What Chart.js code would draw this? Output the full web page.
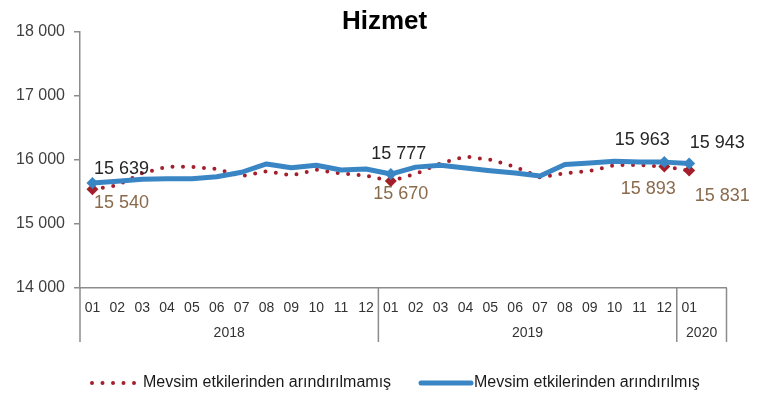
<!DOCTYPE html>
<html>
<head>
<meta charset="utf-8">
<script src="https://cdn.jsdelivr.net/npm/chart.js@4.4.1/dist/chart.umd.min.js"></script>
<style>
  html, body { margin: 0; padding: 0; background: #fff; }
</style>
</head>
<body>
<canvas id="hizmetChart" width="769" height="405"></canvas>
<script>
// Aylar (x ekseni) ve yıl grupları
const months = ['01', '02', '03', '04', '05', '06', '07', '08', '09', '10', '11', '12',
                '01', '02', '03', '04', '05', '06', '07', '08', '09', '10', '11', '12',
                '01'];
const years = ['2018', '2019', '2020'];
const yearSpans = [12, 12, 2]; // 2020 grubunda bir boş kategori var

// Seriler (bin kişi)
const arindirilmamis = [15540, 15600, 15790, 15890, 15890, 15855, 15745, 15820, 15755, 15845, 15785, 15755,
                        15670, 15780, 15945, 16050, 16000, 15890, 15725, 15790, 15825, 15915, 15920, 15893,
                        15831];
const arindirilmis = [15639, 15665, 15695, 15705, 15705, 15735, 15805, 15935, 15875, 15915, 15840, 15855,
                      15777, 15885, 15915, 15870, 15830, 15795, 15745, 15925, 15950, 15975, 15965, 15963,
                      15943];
const seriAdlari = ['Mevsim etkilerinden arındırılmamış', 'Mevsim etkilerinden arındırılmış'];
const etiketliNoktalar = [0, 12, 23, 24];

const yTicks = [14000, 15000, 16000, 17000, 18000];

const FONT = 'Liberation Sans, Arial, sans-serif';
const KIRMIZI = '#a31f2b';
const MAVI = '#3a86c5';

// 15639 -> "15 639"
function bosluklu(v) {
    return String(v).replace(/\B(?=(\d{3})+(?!\d))/g, ' ');
}

// Veri etiketleri: noktaya göre kaydırma
const etiketKaydirma = [
    {0: [29, 14], 12: [10, 13], 23: [-16, 22], 24: [33, 25]},
    {0: [29, -14], 12: [8, -20], 23: [-22, -22], 24: [28, -20]}
];
const etiketRenk = ['#8a6a4c', '#262626'];

const dataLabelPlugin = {
    id: 'dataLabels',
    afterDatasetsDraw(chart) {
        const ctx = chart.ctx;
        ctx.save();
        ctx.font = '18px ' + FONT;
        ctx.textAlign = 'center';
        ctx.textBaseline = 'middle';
        chart.data.datasets.forEach((ds, di) => {
            const meta = chart.getDatasetMeta(di);
            etiketliNoktalar.forEach(i => {
                const pt = meta.data[i];
                const off = etiketKaydirma[di][i];
                ctx.fillStyle = etiketRenk[di];
                ctx.fillText(bosluklu(ds.data[i]), pt.x + off[0], pt.y + off[1]);
            });
        });
        ctx.restore();
    }
};

// Yıl satırı ve grup çizgileri
const groupAxisPlugin = {
    id: 'groupAxis',
    afterDraw(chart) {
        const sx = chart.scales.x;
        const ctx = chart.ctx;
        const w = sx.getPixelForValue(1) - sx.getPixelForValue(0);
        const top = sx.top;
        let edge = sx.getPixelForValue(0) - w / 2;
        ctx.save();
        ctx.strokeStyle = '#8c8c8c';
        ctx.lineWidth = 1.5;
        ctx.beginPath();
        ctx.moveTo(edge, top);
        ctx.lineTo(edge, top + 54);
        ctx.font = '14px ' + FONT;
        ctx.fillStyle = '#333';
        ctx.textAlign = 'center';
        ctx.textBaseline = 'middle';
        years.forEach((yil, k) => {
            const next = edge + yearSpans[k] * w;
            ctx.moveTo(next, top);
            ctx.lineTo(next, top + 54);
            ctx.fillText(yil, (edge + next) / 2, top + 45);
            edge = next;
        });
        ctx.stroke();
        ctx.restore();
    }
};

// Alt kısımdaki açıklama
const legendPlugin = {
    id: 'altAciklama',
    afterDraw(chart) {
        const ctx = chart.ctx;
        const ds = chart.data.datasets;
        const y = 383;
        ctx.save();
        // kırmızı noktalı
        ctx.strokeStyle = ds[0].borderColor;
        ctx.lineWidth = ds[0].borderWidth;
        ctx.lineCap = 'round';
        ctx.setLineDash(ds[0].borderDash);
        ctx.beginPath();
        ctx.moveTo(92, y);
        ctx.lineTo(137, y);
        ctx.stroke();
        // mavi düz
        ctx.setLineDash([]);
        ctx.strokeStyle = ds[1].borderColor;
        ctx.lineWidth = ds[1].borderWidth;
        ctx.beginPath();
        ctx.moveTo(421, y);
        ctx.lineTo(471, y);
        ctx.stroke();
        ctx.font = '16px ' + FONT;
        ctx.fillStyle = '#1a1a1a';
        ctx.textBaseline = 'middle';
        ctx.fillText(ds[0].label, 143, y);
        ctx.fillText(ds[1].label, 474, y);
        ctx.restore();
    }
};

const ctx = document.getElementById('hizmetChart').getContext('2d');

new Chart(ctx, {
    type: 'line',
    data: {
        labels: months.concat(['']),
        datasets: [{
            label: seriAdlari[0],
            data: arindirilmamis,
            borderColor: KIRMIZI,
            backgroundColor: KIRMIZI,
            borderWidth: 4,
            borderDash: [0, 10.5],
            borderCapStyle: 'round',
            pointStyle: 'rectRot',
            pointRadius: c => etiketliNoktalar.includes(c.dataIndex) ? 6 : 0,
            pointBorderWidth: 0,
            tension: 0,
            order: 1
        }, {
            label: seriAdlari[1],
            data: arindirilmis,
            borderColor: MAVI,
            backgroundColor: MAVI,
            borderWidth: 5,
            borderCapStyle: 'round',
            borderJoinStyle: 'round',
            pointStyle: 'rectRot',
            pointRadius: c => etiketliNoktalar.includes(c.dataIndex) ? 6 : 0,
            pointBorderWidth: 0,
            tension: 0,
            order: 0
        }]
    },
    options: {
        responsive: false,
        animation: false,
        events: [],
        layout: { padding: 0 },
        plugins: {
            legend: { display: false },
            tooltip: { enabled: false },
            title: {
                display: true,
                text: 'Hizmet',
                color: '#000',
                font: { family: FONT, size: 26, weight: 'bold', lineHeight: 0.75 },
                padding: { top: 12, bottom: 0 }
            }
        },
        scales: {
            x: {
                offset: true,
                grid: { display: false },
                border: { display: true, color: '#8c8c8c', width: 1.5 },
                ticks: {
                    autoSkip: false,
                    maxRotation: 0,
                    padding: 4,
                    color: '#333',
                    font: { family: FONT, size: 14 }
                },
                afterFit: s => { s.height = 117; }
            },
            y: {
                min: yTicks[0],
                max: yTicks[yTicks.length - 1],
                afterBuildTicks: s => { s.ticks = yTicks.map(v => ({ value: v })); },
                ticks: {
                    padding: 9,
                    color: '#404040',
                    font: { family: FONT, size: 16 },
                    callback: v => bosluklu(v)
                },
                grid: {
                    display: true,
                    drawOnChartArea: false,
                    drawTicks: true,
                    tickLength: 6,
                    color: '#8c8c8c',
                    lineWidth: 1.5
                },
                border: { display: true, color: '#8c8c8c', width: 1.5 },
                afterFit: s => { s.width = 80; }
            },
            sag: {
                position: 'right',
                display: true,
                ticks: { display: false },
                grid: { display: false },
                border: { display: false },
                afterFit: s => { s.width = 42.5; }
            }
        }
    },
    plugins: [dataLabelPlugin, groupAxisPlugin, legendPlugin]
});
</script>
</body>
</html>
